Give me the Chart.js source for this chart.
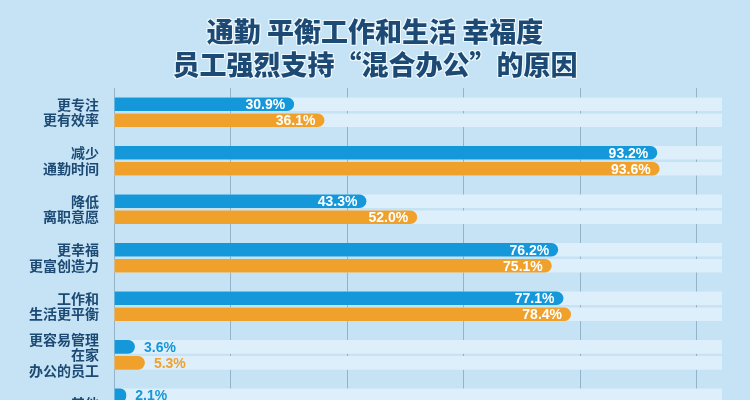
<!DOCTYPE html>
<html lang="zh-CN">
<head>
  <meta charset="UTF-8">
  <title>员工强烈支持混合办公的原因</title>
  <style>
    body {
      margin: 0;
      width: 750px;
      height: 400px;
      overflow: hidden;
      background: #c5e3f4;
      font-family: 'Noto Sans CJK SC', sans-serif;
    }
    .title {
      position: absolute;
      left: 0;
      top: 14px;
      width: 750px;
      text-align: center;
      font-size: 27px;
      font-weight: 900;
      line-height: 33px;
      color: #1c4a74;
      text-shadow: 0 0 2px #fff, 1px 1px 0 #eaf6fd, -1px -1px 0 #eaf6fd, 1px -1px 0 #eaf6fd, -1px 1px 0 #eaf6fd;
      z-index: 2;
    }
    .chart-box {
      position: absolute;
      left: 0;
      top: 0;
      width: 750px;
      height: 458px;
    }
  </style>
</head>
<body>
  <div class="title">通勤 平衡工作和生活 幸福度<br>员工强烈支持“混合办公”的原因</div>
  <div class="chart-box">
    <canvas id="chart"></canvas>
  </div>
  <script src="https://cdn.jsdelivr.net/npm/chart.js"></script>
  <script>
    // reasons (y axis)
    const reasons = [
      ['更专注', '更有效率'],
      ['减少', '通勤时间'],
      ['降低', '离职意愿'],
      ['更幸福', '更富创造力'],
      ['工作和', '生活更平衡'],
      ['更容易管理', '在家', '办公的员工'],
      ['其他']
    ];
    // two series, percent
    const blueValues = [30.9, 93.2, 43.3, 76.2, 77.1, 3.6, 2.1];
    const orangeValues = [36.1, 93.6, 52.0, 75.1, 78.4, 5.3, null];
    const xTicks = [0, 20, 40, 60, 80, 100];
    const trackMax = 104.3;

    const BLUE = '#1598da';
    const ORANGE = '#f0a12b';
    const TRACK = '#ddeffa';
    const NAVY = '#1c4a74';

    const track = reasons.map(() => trackMax);

    // value labels: white inside long bars, coloured outside short ones
    const valueLabels = {
      id: 'valueLabels',
      afterDatasetsDraw(chart) {
        const ctx = chart.ctx;
        ctx.save();
        ctx.font = 'bold 14px "Liberation Sans", Arial, sans-serif';
        ctx.textBaseline = 'middle';
        chart.data.datasets.forEach((ds, i) => {
          if (!ds.showValue) return;
          chart.getDatasetMeta(i).data.forEach((bar, j) => {
            const v = ds.data[j];
            if (v == null) return;
            const txt = v.toFixed(1) + '%';
            if (v > 15) {
              ctx.fillStyle = '#ffffff';
              ctx.textAlign = 'right';
              ctx.fillText(txt, bar.x - 9, bar.y + 1);
            } else {
              ctx.fillStyle = ds.backgroundColor;
              ctx.textAlign = 'left';
              ctx.fillText(txt, bar.x + 9, bar.y + 1);
            }
          });
        });
        ctx.restore();
      }
    };

    new Chart(document.getElementById('chart'), {
      type: 'bar',
      data: {
        labels: reasons,
        datasets: [
          { label: 'blue', data: blueValues, backgroundColor: BLUE, stack: 'a', order: 1, borderRadius: 8, borderSkipped: 'start', showValue: true },
          { label: 'orange', data: orangeValues, backgroundColor: ORANGE, stack: 'b', order: 1, borderRadius: 8, borderSkipped: 'start', showValue: true },
          { label: 'trackA', data: track, backgroundColor: TRACK, stack: 'a', order: 2, borderRadius: 0 },
          { label: 'trackB', data: track, backgroundColor: TRACK, stack: 'b', order: 2, borderRadius: 0 }
        ]
      },
      options: {
        indexAxis: 'y',
        responsive: true,
        maintainAspectRatio: false,
        animation: false,
        categoryPercentage: 0.66,
        barPercentage: 0.85,
        layout: { padding: { top: 88, bottom: 12, left: 0, right: 28 } },
        plugins: {
          legend: { display: false },
          tooltip: { enabled: false },
          title: { display: false }
        },
        scales: {
          x: {
            stacked: false,
            min: 0,
            max: trackMax,
            afterBuildTicks(scale) {
              scale.ticks = xTicks.map(v => ({ value: v }));
            },
            afterFit(scale) { scale.height = 0; },
            ticks: { display: false },
            border: { display: false },
            grid: { color: '#93b3c8', lineWidth: 1, drawTicks: false }
          },
          y: {
            afterFit(scale) { scale.width = 114; },
            grid: { display: false, drawTicks: false },
            border: { display: false },
            ticks: {
              autoSkip: false,
              padding: 15,
              color: NAVY,
              font: { family: 'Noto Sans CJK SC', weight: 'bold', size: 14, lineHeight: 1.1 }
            }
          }
        }
      },
      plugins: [valueLabels]
    });
  </script>
</body>
</html>
